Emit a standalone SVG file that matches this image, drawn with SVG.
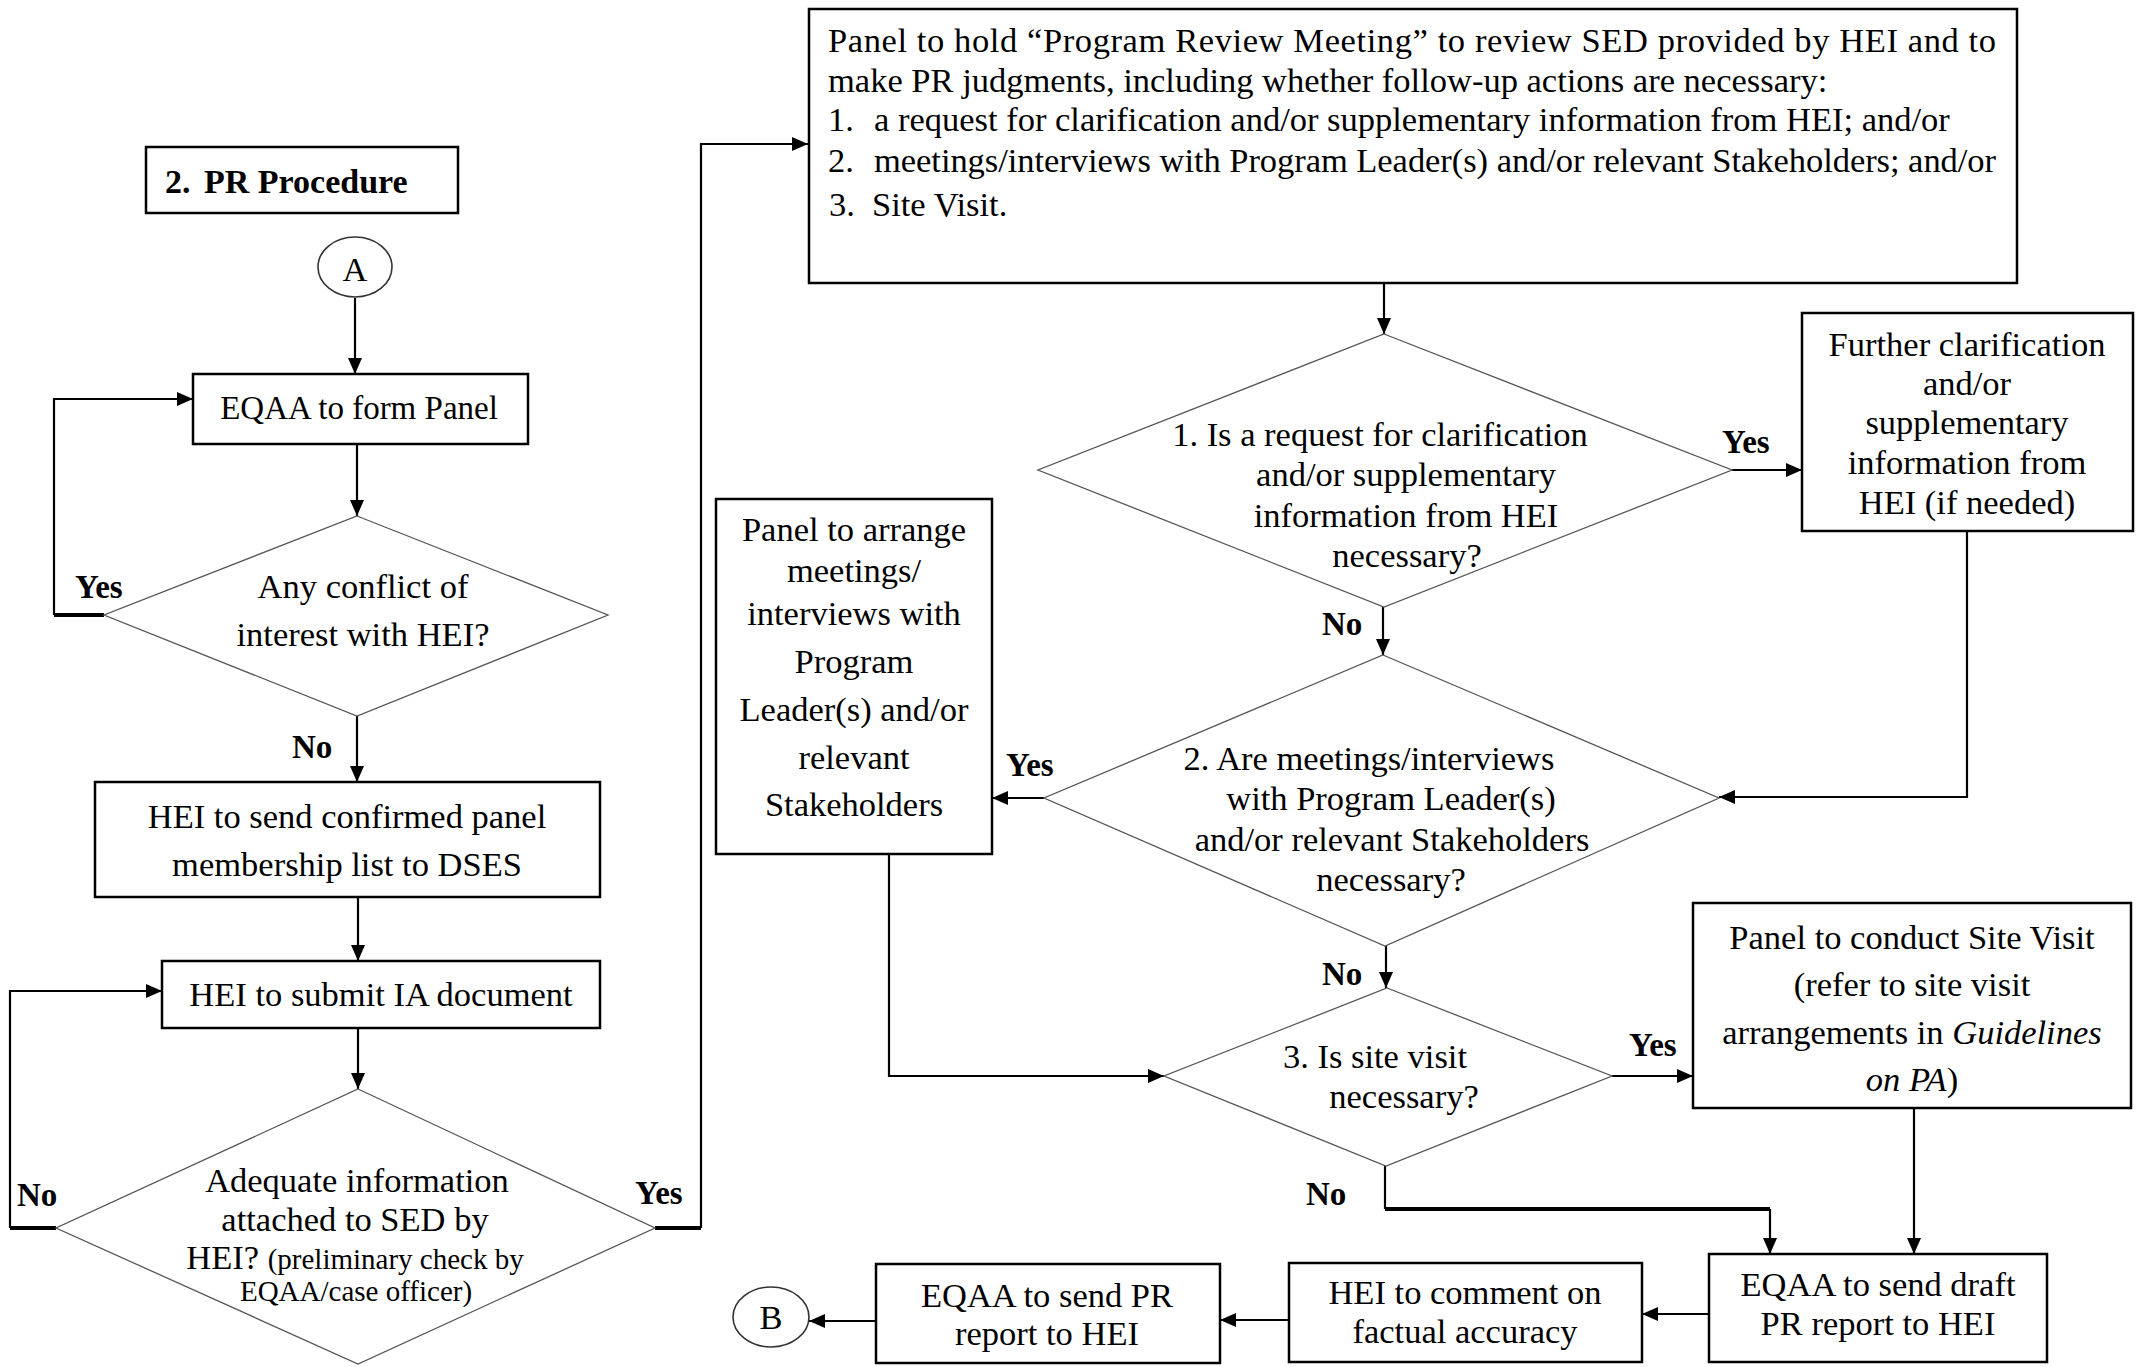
<svg xmlns="http://www.w3.org/2000/svg" width="2146" height="1367" viewBox="0 0 2146 1367">
<style>
.t{font-family:"Liberation Serif","Times New Roman",serif;font-size:34.5px;fill:#000}
.m{text-anchor:middle}
.s{font-size:29px}
.b{font-family:"Liberation Serif","Times New Roman",serif;font-size:33px;font-weight:bold;fill:#000}
.box{fill:#fff;stroke:#000;stroke-width:2.5}
.dia{fill:#fff;stroke:#555;stroke-width:1.3}
.circ{fill:#fff;stroke:#333;stroke-width:1.6}
.c{fill:none;stroke:#000;stroke-width:2.2}
.ck{fill:none;stroke:#000;stroke-width:4}
.i{font-style:italic}
</style>
<defs>
<marker id="ah" markerUnits="userSpaceOnUse" markerWidth="17" markerHeight="14" refX="16" refY="7" orient="auto">
<path d="M0,0 L16,7 L0,14 z" fill="#000"/>
</marker>
</defs>
<rect width="2146" height="1367" fill="#fff"/>

<g id="connectors">
<line class="c" x1="355" y1="298" x2="355" y2="374" marker-end="url(#ah)"/>
<line class="c" x1="357" y1="444" x2="357" y2="516" marker-end="url(#ah)"/>
<polyline class="c" points="54,615 54,399 193,399" marker-end="url(#ah)"/>
<line class="ck" x1="54" y1="615" x2="104" y2="615"/>
<line class="c" x1="357" y1="716" x2="357" y2="782" marker-end="url(#ah)"/>
<line class="c" x1="358" y1="897" x2="358" y2="961" marker-end="url(#ah)"/>
<line class="c" x1="358" y1="1028" x2="358" y2="1089" marker-end="url(#ah)"/>
<polyline class="c" points="10,1228 10,991 162,991" marker-end="url(#ah)"/>
<line class="ck" x1="10" y1="1228" x2="56" y2="1228"/>
<polyline class="c" points="701,1228 701,144 808,144" marker-end="url(#ah)"/>
<line class="ck" x1="655" y1="1228" x2="701" y2="1228"/>
<line class="c" x1="1384" y1="283" x2="1384" y2="334" marker-end="url(#ah)"/>
<line class="c" x1="1732" y1="470" x2="1802" y2="470" marker-end="url(#ah)"/>
<polyline class="c" points="1967,531 1967,797 1719,797" marker-end="url(#ah)"/>
<line class="c" x1="1383" y1="607" x2="1383" y2="655" marker-end="url(#ah)"/>
<line class="c" x1="1044" y1="798" x2="992" y2="798" marker-end="url(#ah)"/>
<polyline class="c" points="889,854 889,1076 1164,1076" marker-end="url(#ah)"/>
<line class="c" x1="1386" y1="946" x2="1386" y2="988" marker-end="url(#ah)"/>
<line class="c" x1="1612" y1="1076" x2="1693" y2="1076" marker-end="url(#ah)"/>
<line class="c" x1="1914" y1="1108" x2="1914" y2="1254" marker-end="url(#ah)"/>
<polyline class="c" points="1385,1166 1385,1209" />
<line class="ck" x1="1385" y1="1209" x2="1770" y2="1209"/>
<line class="c" x1="1770" y1="1209" x2="1770" y2="1254" marker-end="url(#ah)"/>
<line class="c" x1="1709" y1="1314" x2="1642" y2="1314" marker-end="url(#ah)"/>
<line class="c" x1="1289" y1="1320" x2="1220" y2="1320" marker-end="url(#ah)"/>
<line class="c" x1="876" y1="1321" x2="809" y2="1321" marker-end="url(#ah)"/>
</g>

<g id="labels">
<text class="b" x="75" y="598">Yes</text>
<text class="b" x="292" y="758">No</text>
<text class="b" x="17" y="1206">No</text>
<text class="b" x="635" y="1204">Yes</text>
<text class="b" x="1722" y="453">Yes</text>
<text class="b" x="1322" y="635">No</text>
<text class="b" x="1006" y="776">Yes</text>
<text class="b" x="1322" y="985">No</text>
<text class="b" x="1629" y="1056">Yes</text>
<text class="b" x="1306" y="1205">No</text>
</g>

<g id="title">
<rect class="box" x="146" y="147" width="312" height="66"/>
<text class="b" style="font-size:34px" y="193"><tspan x="165">2.</tspan><tspan x="204">PR Procedure</tspan></text>
</g>

<g id="startA">
<ellipse class="circ" cx="355" cy="267" rx="37" ry="30"/>
<text class="t m" x="355" y="281">A</text>
</g>

<g id="formPanel">
<rect class="box" x="193" y="374" width="335" height="70"/>
<text class="t m" style="font-size:33px" x="359" y="419">EQAA to form Panel</text>
</g>

<g id="conflict">
<polygon class="dia" points="357,516 608,615 357,716 104,615"/>
<text class="t m" x="363" y="598">Any conflict of</text>
<text class="t m" x="363" y="646">interest with HEI?</text>
</g>

<g id="sendList">
<rect class="box" x="95" y="782" width="505" height="115"/>
<text class="t m" x="347" y="828">HEI to send confirmed panel</text>
<text class="t m" x="347" y="876">membership list to DSES</text>
</g>

<g id="submitIA">
<rect class="box" x="162" y="961" width="438" height="67"/>
<text class="t m" x="381" y="1006">HEI to submit IA document</text>
</g>

<g id="adequate">
<polygon class="dia" points="358,1089 655,1228 358,1364 56,1228"/>
<text class="t m" x="357" y="1192">Adequate information</text>
<text class="t m" x="355" y="1231">attached to SED by</text>
<text class="t m" x="355" y="1269">HEI? <tspan class="s">(preliminary check by</tspan></text>
<text class="t m s" x="356" y="1301">EQAA/case officer)</text>
</g>

<g id="reviewMeeting">
<rect class="box" x="809" y="9" width="1208" height="274"/>
<text class="t" x="828" y="52" textLength="1168" lengthAdjust="spacing">Panel to hold “Program Review Meeting” to review SED provided by HEI and to</text>
<text class="t" x="828" y="92">make PR judgments, including whether follow-up actions are necessary:</text>
<text class="t" x="828" y="131">1.</text>
<text class="t" x="874" y="131">a request for clarification and/or supplementary information from HEI; and/or</text>
<text class="t" x="828" y="172">2.</text>
<text class="t" x="874" y="172" textLength="1122" lengthAdjust="spacing">meetings/interviews with Program Leader(s) and/or relevant Stakeholders; and/or</text>
<text class="t" x="829" y="216">3.</text>
<text class="t" x="872" y="216">Site Visit.</text>
</g>

<g id="q1">
<polygon class="dia" points="1384,334 1732,470 1384,607 1038,470"/>
<text class="t m" x="1380" y="446">1. Is a request for clarification</text>
<text class="t m" x="1406" y="486">and/or supplementary</text>
<text class="t m" x="1406" y="527">information from HEI</text>
<text class="t m" x="1407" y="567">necessary?</text>
</g>

<g id="further">
<rect class="box" x="1802" y="313" width="331" height="218"/>
<text class="t m" x="1967" y="356">Further clarification</text>
<text class="t m" x="1967" y="395">and/or</text>
<text class="t m" x="1967" y="434">supplementary</text>
<text class="t m" x="1967" y="474">information from</text>
<text class="t m" x="1967" y="514">HEI (if needed)</text>
</g>

<g id="q2">
<polygon class="dia" points="1383,655 1719,798 1385,946 1044,798"/>
<text class="t m" x="1369" y="770">2. Are meetings/interviews</text>
<text class="t m" x="1391" y="810">with Program Leader(s)</text>
<text class="t m" x="1392" y="851">and/or relevant Stakeholders</text>
<text class="t m" x="1391" y="891">necessary?</text>
</g>

<g id="arrange">
<rect class="box" x="716" y="499" width="276" height="355"/>
<text class="t m" x="854" y="541">Panel to arrange</text>
<text class="t m" x="854" y="582">meetings/</text>
<text class="t m" x="854" y="625">interviews with</text>
<text class="t m" x="854" y="673">Program</text>
<text class="t m" x="854" y="721">Leader(s) and/or</text>
<text class="t m" x="854" y="769">relevant</text>
<text class="t m" x="854" y="816">Stakeholders</text>
</g>

<g id="q3">
<polygon class="dia" points="1387,988 1612,1076 1386,1166 1164,1076"/>
<text class="t m" x="1375" y="1068">3. Is site visit</text>
<text class="t m" x="1404" y="1108">necessary?</text>
</g>

<g id="siteVisit">
<rect class="box" x="1693" y="903" width="438" height="205"/>
<text class="t m" x="1912" y="949">Panel to conduct Site Visit</text>
<text class="t m" x="1912" y="996">(refer to site visit</text>
<text class="t m" x="1912" y="1044">arrangements in <tspan class="i">Guidelines</tspan></text>
<text class="t m" x="1912" y="1091"><tspan class="i">on PA</tspan>)</text>
</g>

<g id="draft">
<rect class="box" x="1709" y="1254" width="338" height="108"/>
<text class="t m" x="1878" y="1296">EQAA to send draft</text>
<text class="t m" x="1878" y="1335">PR report to HEI</text>
</g>

<g id="comment">
<rect class="box" x="1289" y="1263" width="353" height="99"/>
<text class="t m" x="1465" y="1304">HEI to comment on</text>
<text class="t m" x="1465" y="1343">factual accuracy</text>
</g>

<g id="sendPR">
<rect class="box" x="876" y="1264" width="344" height="99"/>
<text class="t m" x="1047" y="1307">EQAA to send PR</text>
<text class="t m" x="1047" y="1345">report to HEI</text>
</g>

<g id="endB">
<ellipse class="circ" cx="771" cy="1317" rx="38" ry="30"/>
<text class="t m" x="771" y="1329">B</text>
</g>
</svg>
